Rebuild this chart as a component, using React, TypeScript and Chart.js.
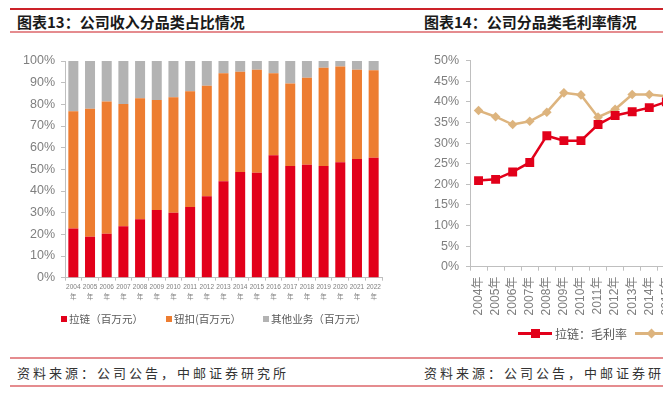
import React, { useEffect, useRef } from "react";
import { Chart, registerables } from "chart.js";

Chart.register(...registerables);

// ---------- Data ----------
const shareYears = ["2004", "2005", "2006", "2007", "2008", "2009", "2010", "2011", "2012", "2013", "2014", "2015", "2016", "2017", "2018", "2019", "2020", "2021", "2022"];
const zipperShare = [22.7, 18.9, 20.3, 23.7, 27.0, 31.2, 30.0, 32.6, 37.6, 44.5, 48.8, 48.4, 56.5, 51.5, 52.1, 51.5, 53.3, 54.8, 55.3];
const buttonShare = [54.1, 59.1, 61.0, 56.5, 55.8, 50.8, 53.3, 53.4, 51.0, 49.8, 46.2, 47.6, 37.8, 38.1, 40.2, 45.4, 44.2, 41.2, 40.4];
const otherShare = [23.2, 22.0, 18.7, 19.8, 17.2, 18.0, 16.7, 14.0, 11.4, 5.7, 5.0, 4.0, 5.7, 10.4, 7.7, 3.1, 2.5, 4.0, 4.3];
const shareSeriesNames = ["拉链（百万元）", "钮扣(百万元）", "其他业务（百万元）"];

const marginYears = ["2004年", "2005年", "2006年", "2007年", "2008年", "2009年", "2010年", "2011年", "2012年", "2013年", "2014年", "2015年"];
const zipperMargin = [20.9, 21.2, 23.0, 25.3, 31.8, 30.6, 30.6, 34.5, 36.7, 37.6, 38.6, 40.0];
const buttonMargin = [37.9, 36.4, 34.5, 35.3, 37.5, 42.2, 41.7, 36.3, 38.2, 41.8, 41.8, 41.4];
const marginSeriesNames = ["拉链：毛利率", "钮扣：毛利率"];

const shareTicks = [0, 10, 20, 30, 40, 50, 60, 70, 80, 90, 100];
const marginTicks = [0, 5, 10, 15, 20, 25, 30, 35, 40, 45, 50];

const RED = "#E2001A";
const ORANGE = "#ED7D31";
const GRAY = "#B3B3B3";
const TAN = "#DDB47E";
const AXIS = "#BFBFBF";
const TICK_TXT = "#7F7F7F";
const LATIN = "'Liberation Sans', 'Noto Sans CJK SC', sans-serif";
const CJK = "'Noto Sans CJK SC', sans-serif";

function ShareChart() {
  const ref = useRef<HTMLCanvasElement | null>(null);
  useEffect(() => {
    if (!ref.current) return;
    const chart = new Chart(ref.current, {
      type: "bar",
      data: {
        labels: shareYears.map((y) => [y, "年"]),
        datasets: [
          { label: shareSeriesNames[0], data: zipperShare, backgroundColor: RED },
          { label: shareSeriesNames[1], data: buttonShare, backgroundColor: ORANGE },
          { label: shareSeriesNames[2], data: otherShare, backgroundColor: GRAY },
        ],
      },
      options: {
        responsive: false,
        animation: false,
        layout: { padding: { top: 21, right: 8, left: 0, bottom: 0 } },
        datasets: { bar: { categoryPercentage: 1, barPercentage: 0.6 } },
        plugins: { legend: { display: false }, tooltip: { enabled: false } },
        scales: {
          x: {
            stacked: true,
            offset: true,
            grid: { display: true, drawOnChartArea: false, drawTicks: true, tickLength: 3, color: AXIS, offset: true },
            border: { display: true, color: AXIS, width: 1 },
            ticks: { color: TICK_TXT, font: { family: LATIN, size: 6.5, lineHeight: 1.45 }, padding: 2, maxRotation: 0, minRotation: 0, autoSkip: false },
            afterFit: (s: any) => { s.height = 32.3; },
          },
          y: {
            stacked: true,
            min: 0,
            max: 100,
            afterBuildTicks: (s: any) => { s.ticks = shareTicks.map((v) => ({ value: v })); },
            grid: { display: true, drawOnChartArea: false, drawTicks: true, tickLength: 4, color: AXIS },
            border: { display: true, color: AXIS, width: 1 },
            ticks: { color: TICK_TXT, font: { family: LATIN, size: 12.5 }, padding: 6, callback: (v: any) => v + "%" },
            afterFit: (s: any) => { s.width = 65; },
          },
        },
      },
    });
    return () => chart.destroy();
  }, []);
  return <canvas ref={ref} width={390} height={270} style={{ position: "absolute", left: 0, top: 40, width: 390, height: 270 }} />;
}

function MarginChart() {
  const ref = useRef<HTMLCanvasElement | null>(null);
  useEffect(() => {
    if (!ref.current) return;
    const chart = new Chart(ref.current, {
      type: "line",
      data: {
        labels: marginYears,
        datasets: [
          {
            label: marginSeriesNames[0], data: zipperMargin, borderColor: RED, backgroundColor: RED,
            borderWidth: 2.5, pointStyle: "rect", pointRadius: 6.3, pointBorderWidth: 0, tension: 0,
          },
          {
            label: marginSeriesNames[1], data: buttonMargin, borderColor: TAN, backgroundColor: TAN,
            borderWidth: 2.5, pointStyle: "rectRot", pointRadius: 4.8, pointBorderWidth: 0, tension: 0,
          },
        ],
      },
      options: {
        responsive: false,
        animation: false,
        layout: { padding: { top: 20.7, right: 0, left: 0, bottom: 0 } },
        plugins: { legend: { display: false }, tooltip: { enabled: false } },
        scales: {
          x: {
            offset: true,
            grid: { display: true, drawOnChartArea: false, drawTicks: true, tickLength: 4, color: AXIS, offset: true },
            border: { display: true, color: AXIS, width: 1 },
            ticks: { color: TICK_TXT, font: { family: LATIN, size: 12 }, padding: 6, maxRotation: 90, minRotation: 90, autoSkip: false },
            afterFit: (s: any) => { s.height = 73.3; },
          },
          y: {
            min: 0,
            max: 50,
            afterBuildTicks: (s: any) => { s.ticks = marginTicks.map((v) => ({ value: v })); },
            grid: { display: true, drawOnChartArea: false, drawTicks: true, tickLength: 4, color: AXIS },
            border: { display: true, color: AXIS, width: 1 },
            ticks: { color: TICK_TXT, font: { family: LATIN, size: 12.5 }, padding: 7, callback: (v: any) => v + "%" },
            afterFit: (s: any) => { s.width = 65; },
          },
        },
      },
    });
    return () => chart.destroy();
  }, []);
  return <canvas ref={ref} width={282} height={300} style={{ position: "absolute", left: 405, top: 40, width: 282, height: 300 }} />;
}

const abs = (o: any) => ({ position: "absolute" as const, ...o });

export default function App() {
  const shareColors = [RED, ORANGE, GRAY];
  const shareLegendX = [61, 166, 263];
  return (
    <div style={{ position: "fixed", left: 0, top: 0, width: 663, height: 394, overflow: "hidden", background: "#fff", fontFamily: CJK }}>
      {/* header */}
      <div style={abs({ left: 10, top: 7.5, width: 653, height: 2, background: "#CC2229" })} />
      <div style={abs({ left: 17, top: 12, height: 19, lineHeight: "19px", fontSize: 15, fontWeight: 700, color: "#1a1a1a", whiteSpace: "nowrap" })}>图表13：公司收入分品类占比情况</div>
      <div style={abs({ left: 424, top: 12, height: 19, lineHeight: "19px", fontSize: 15, fontWeight: 700, color: "#1a1a1a", whiteSpace: "nowrap" })}>图表14：公司分品类毛利率情况</div>
      <div style={abs({ left: 10, top: 31, width: 653, height: 1.5, background: "#E58C8F" })} />

      <ShareChart />
      <MarginChart />

      {/* left legend */}
      {shareSeriesNames.map((name, i) => (
        <div key={name}>
          <div style={abs({ left: shareLegendX[i], top: 316, width: 6, height: 6, background: shareColors[i] })} />
          <div style={abs({ left: shareLegendX[i] + 8, top: 311, height: 16, lineHeight: "16px", fontSize: 10.6, color: "#595959", whiteSpace: "nowrap" })}>{name}</div>
        </div>
      ))}

      {/* right legend */}
      <div style={abs({ left: 518, top: 332, width: 34, height: 2.5, background: RED })} />
      <div style={abs({ left: 531, top: 328.5, width: 9, height: 9, background: RED })} />
      <div style={abs({ left: 555, top: 325, height: 17, lineHeight: "17px", fontSize: 12, color: "#595959", whiteSpace: "nowrap" })}>{marginSeriesNames[0]}</div>
      <div style={abs({ left: 635, top: 332, width: 40, height: 2.5, background: TAN })} />
      <div style={abs({ left: 647.5, top: 329.5, width: 7, height: 7, background: TAN, transform: "rotate(45deg)" })} />
      <div style={abs({ left: 682, top: 325, height: 17, lineHeight: "17px", fontSize: 12, color: "#595959", whiteSpace: "nowrap" })}>{marginSeriesNames[1]}</div>

      {/* footer */}
      <div style={abs({ left: 10, top: 357, width: 653, height: 1.5, background: "#E58C8F" })} />
      <div style={abs({ left: 17, top: 364, height: 18, lineHeight: "18px", fontSize: 13, letterSpacing: 3, color: "#333", whiteSpace: "nowrap" })}>资料来源：公司公告，中邮证券研究所</div>
      <div style={abs({ left: 424, top: 364, height: 18, lineHeight: "18px", fontSize: 13, letterSpacing: 3, color: "#333", whiteSpace: "nowrap" })}>资料来源：公司公告，中邮证券研究所</div>
      <div style={abs({ left: 10, top: 385, width: 653, height: 1.5, background: "#E58C8F" })} />
    </div>
  );
}
